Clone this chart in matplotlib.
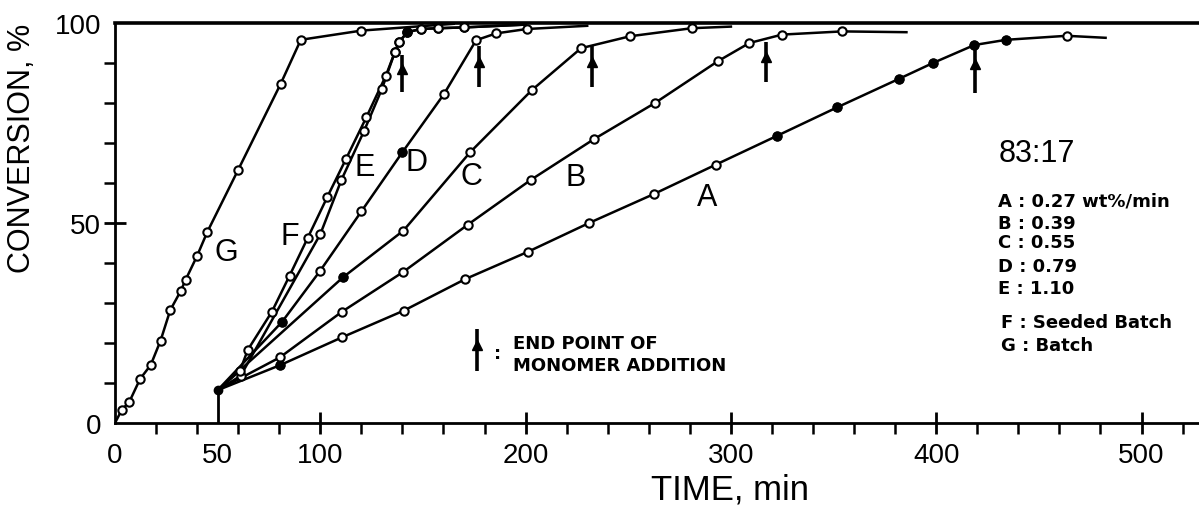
import matplotlib
matplotlib.use("Agg")  # no display
from matplotlib import pyplot as plt

plt.rcParams['font.family'] = ['Liberation Sans', 'DejaVu Sans']

# time (min) and conversion (%) for each run
# A-F share the start point at 50 min; last point of every run is the unmarked line end
A_t = [50, 80.6, 110.5, 140.7, 170.7, 201.1, 230.9, 262.3, 292.7, 322.5, 351.7, 381.7, 398.4, 418.6, 434.1, 463.5, 482.5]
A_y = [8.2, 14.5, 21.4, 28.1, 36.0, 42.8, 50.0, 57.2, 64.6, 71.8, 78.9, 86.0, 90.0, 94.5, 95.8, 96.8, 96.3]

B_t = [50, 80.3, 110.5, 140.2, 171.9, 202.6, 233.4, 263.0, 293.5, 309.0, 324.9, 354.2, 385.5]
B_y = [8.2, 16.4, 27.8, 37.7, 49.6, 60.8, 71.0, 80.0, 90.4, 95.0, 97.1, 97.9, 97.7]

C_t = [50, 111.0, 140.5, 173.0, 203.0, 227.0, 251.0, 281.0, 300.0]
C_y = [8.2, 36.4, 48.1, 67.7, 83.2, 93.7, 96.7, 98.7, 99.1]

D_t = [50, 81.4, 100.0, 120.0, 140.0, 160.2, 175.9, 185.6, 200.6, 230.0]
D_y = [8.2, 25.3, 38.1, 52.9, 67.7, 82.2, 95.7, 97.4, 98.5, 99.3]

E_t = [50, 61.2, 100.0, 110.3, 121.4, 130.0, 136.3, 138.3, 142.4, 148.9, 157.5, 170.2, 200.0]
E_y = [8.2, 11.8, 47.2, 60.8, 73.1, 83.5, 92.7, 95.2, 97.7, 98.5, 98.7, 98.9, 99.6]

F_t = [50, 60.9, 64.7, 76.4, 85.0, 93.8, 103.5, 112.5, 122.4, 131.9, 136.3, 138.3, 142.4, 148.9, 157.5, 170.2, 200.0]
F_y = [8.2, 13.1, 18.3, 27.8, 36.8, 46.2, 56.6, 66.0, 76.4, 86.8, 92.7, 95.2, 97.7, 98.5, 98.7, 98.9, 99.6]

G_t = [0, 3.3, 7.0, 12.2, 17.4, 22.2, 26.9, 32.0, 34.4, 40.0, 44.9, 60.0, 80.7, 90.5, 120.0, 165.0]
G_y = [0, 3.3, 5.3, 11.0, 14.5, 20.6, 28.2, 33.0, 35.8, 41.8, 47.7, 63.3, 84.8, 95.8, 98.1, 99.8]

# point indices drawn as solid dots
solid = {"A": [1, 9, 10, 11, 12, 13, 14], "C": [1], "D": [1, 4], "E": [8]}

# end of monomer addition (min) and the arrow's lower/upper conversion
feed_end = {"E": 139.6, "D": 177.4, "C": 232.2, "B": 317.3, "A": 418.7}
arrow_lo = {"E": 82.7, "D": 83.9, "C": 83.9, "B": 85.2, "A": 82.5}
arrow_hi = {"E": 92.0, "D": 94.3, "C": 94.3, "B": 95.2, "A": 94.0}

# curve letters and where they sit
letter_pos = {"G": (54.4, 42.7), "F": (85.3, 46.8), "E": (121.8, 63.9), "D": (147.0, 65.2),
              "C": (173.8, 61.8), "B": (224.2, 61.4), "A": (288.3, 56.4)}

key_lines = ["A : 0.27 wt%/min", "B : 0.39", "C : 0.55", "D : 0.79", "E : 1.10"]
key_y = [55.6, 50.0, 45.2, 39.3, 33.7]
batch_lines = ["F : Seeded Batch", "G : Batch"]
batch_y = [25.2, 19.5]

runs = [("A", A_t, A_y), ("B", B_t, B_y), ("C", C_t, C_y), ("D", D_t, D_y),
        ("E", E_t, E_y), ("F", F_t, F_y), ("G", G_t, G_y)]

fig = plt.figure(figsize=(11.99, 5.06), dpi=100)
ax = fig.add_axes([115 / 1199, 82 / 506, 1084 / 1199, 400 / 506])

for name, t, y in runs:
    ax.plot(t, y, color="black", lw=1.8, zorder=2)
    ax.plot(t[1:-1], y[1:-1], ls="none", marker="o", ms=6, mfc="white",
            mec="black", mew=1.5, zorder=3)
    for i in solid.get(name, []):
        ax.plot(t[i], y[i], marker="o", ms=6, mfc="black", mec="black", zorder=4)

# common start of the semi-batch runs
ax.plot([A_t[0], A_t[0]], [0, A_y[0]], color="black", lw=2, zorder=2)
ax.plot(A_t[0], A_y[0], marker="o", ms=6, color="black", zorder=4)

def up_arrow(x, lo, hi):
    ax.plot([x, x], [lo, hi], color="black", lw=2.6, solid_capstyle="butt", zorder=2)
    ax.plot(x, lo + 0.62 * (hi - lo), marker="^", ms=7, color="black", zorder=2)

for k in feed_end:
    up_arrow(feed_end[k], arrow_lo[k], arrow_hi[k])

for k, (x, y) in letter_pos.items():
    ax.text(x, y, k, fontsize=22, ha="center", va="center")

key_font = dict(fontsize=13, fontweight="bold", family=["DejaVu Sans"])

ax.text(430.3, 65.6, "83:17", fontsize=22, ha="left", va="baseline")
for s, y in zip(key_lines, key_y):
    ax.text(430.3, y, s, ha="left", va="center", **key_font)
for s, y in zip(batch_lines, batch_y):
    ax.text(431.8, y, s, ha="left", va="center", **key_font)

# arrow key
up_arrow(176.3, 13.1, 23.5)
ax.text(186.5, 17.5, ":", ha="center", va="center", **key_font)
ax.text(194, 19.9, "END POINT OF", ha="left", va="center", **key_font)
ax.text(194, 14.5, "MONOMER ADDITION", ha="left", va="center", **key_font)

ax.set_xlim(0, 528)
ax.set_ylim(0, 100)

ax.spines["right"].set_visible(False)
ax.spines["top"].set_linewidth(2.6)
ax.spines["left"].set_linewidth(2)
ax.spines["bottom"].set_linewidth(2)

ax.set_xticks([0, 50, 100, 200, 300, 400, 500])
ax.set_xticks([m for m in range(20, 521, 20) if m % 100], minor=True)
ax.set_yticks([0, 50, 100])
ax.set_yticks([m for m in range(10, 100, 10) if m != 50], minor=True)

ax.tick_params(axis="both", which="major", direction="inout", length=16, width=2,
               labelsize=20)
ax.tick_params(axis="both", which="minor", direction="out", length=8, width=1.8)
ax.tick_params(axis="x", which="major", pad=6)
ax.tick_params(axis="y", which="major", pad=2)
xt = ax.xaxis.get_major_ticks()
xt[0].tick1line.set_visible(False)
xt[1].tick1line.set_visible(False)
yt = ax.yaxis.get_major_ticks()
yt[0].tick1line.set_visible(False)
yt[2].tick1line.set_visible(False)

fig.text(730 / 1199, 1 - 490 / 506, "TIME, min", fontsize=25, ha="center", va="center")
fig.text(22 / 1199, 1 - 148 / 506, "CONVERSION, %", fontsize=22, rotation=90,
         ha="center", va="center")

plt.savefig("out.png", dpi=100, facecolor="white")
